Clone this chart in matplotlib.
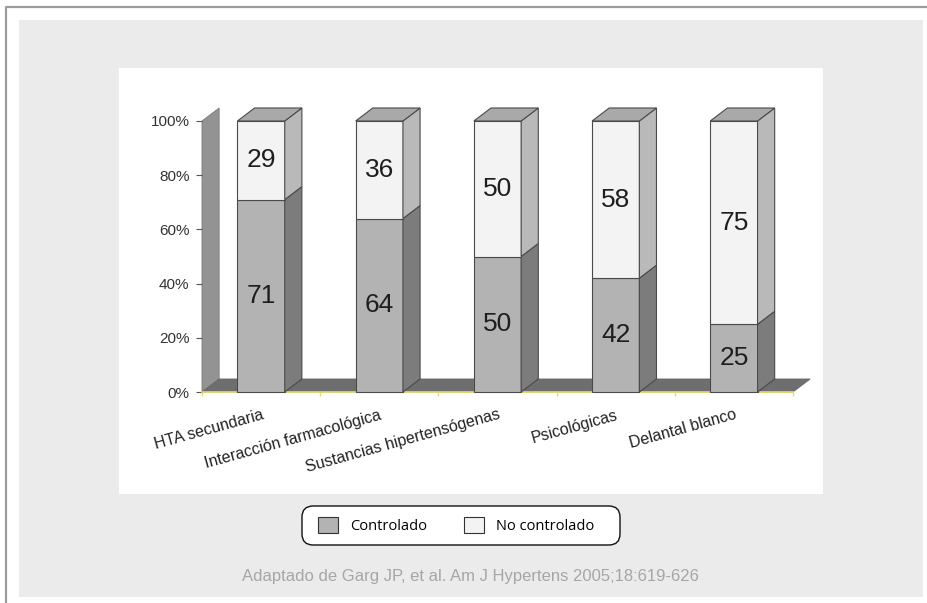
import matplotlib
matplotlib.use("Agg")
import matplotlib.pyplot as plt
from matplotlib.patches import Polygon, Rectangle, Patch, FancyBboxPatch
from matplotlib.lines import Line2D

# ====================================
# Datos
# ====================================
categorias = ["HTA secundaria", "Interacción farmacológica",
              "Sustancias hipertensógenas", "Psicológicas", "Delantal blanco"]
controlado = [71, 64, 50, 42, 25]
no_controlado = [29, 36, 50, 58, 75]
yticks = [0, 20, 40, 60, 80, 100]
fuente = "Adaptado de Garg JP, et al. Am J Hypertens 2005;18:619-626"

# ====================================
# Figura y marcos
# ====================================
W, H = 927, 603
fig = plt.figure(figsize=(W / 100, H / 100), dpi=100)
fig.patch.set_facecolor("white")


def px(x0, y0, x1, y1):
    # caja en pixeles (origen arriba-izquierda) -> fracciones de figura
    return x0 / W, 1 - y1 / H, (x1 - x0) / W, (y1 - y0) / H


def rect(x0, y0, x1, y1, **kw):
    l, b, w, h = px(x0, y0, x1, y1)
    fig.add_artist(Rectangle((l, b), w, h, transform=fig.transFigure, zorder=-5, **kw))


# linea gris del borde
fig.add_artist(Line2D([6 / W, 6 / W, 1], [0, 1 - 7 / H, 1 - 7 / H],
                      transform=fig.transFigure, color="#9c9c9c", lw=1.6, zorder=-5))
rect(19, 20, 923, 597, facecolor="#eaebea", edgecolor="none")
rect(119, 68, 823, 494, facecolor="white", edgecolor="none")

# ====================================
# Grafico 3D simulado
# ====================================
ax = fig.add_axes(px(202, 121, 793, 392))
ax.set_zorder(5)
ax.set_xlim(-0.5, 4.5)
ax.set_ylim(0, 100)
ax.set_facecolor("none")

dx, dy = 0.145, 4.8   # profundidad
hw = 0.2              # media anchura de la barra
edge = "#4a4a4a"

# pared izquierda y suelo
ax.add_patch(Polygon([(-0.5, 0), (-0.5, 100), (-0.5 + dx, 100 + dy), (-0.5 + dx, dy)],
                     closed=True, facecolor="#939393", edgecolor="#7a7a7a", lw=0.6,
                     clip_on=False, zorder=1))
ax.add_patch(Polygon([(-0.5, 0), (4.5, 0), (4.5 + dx, dy), (-0.5 + dx, dy)],
                     closed=True, facecolor="#6e6e6e", edgecolor="#666666", lw=0.6,
                     clip_on=False, zorder=1))

for i, (c, n) in enumerate(zip(controlado, no_controlado)):
    segs = [(0, c, "#b3b3b3", "#7c7c7c"), (c, c + n, "#f3f3f3", "#b9b9b9")]
    for y0, y1, front, side in segs:
        ax.add_patch(Polygon([(i - hw, y0), (i + hw, y0), (i + hw, y1), (i - hw, y1)],
                             closed=True, facecolor=front, edgecolor=edge, lw=0.8,
                             clip_on=False, zorder=3))
        ax.add_patch(Polygon([(i + hw, y0), (i + hw + dx, y0 + dy),
                              (i + hw + dx, y1 + dy), (i + hw, y1)],
                             closed=True, facecolor=side, edgecolor=edge, lw=0.8,
                             clip_on=False, zorder=3))
    top = c + n
    ax.add_patch(Polygon([(i - hw, top), (i + hw, top), (i + hw + dx, top + dy),
                          (i - hw + dx, top + dy)],
                         closed=True, facecolor="#a9a9a9", edgecolor=edge, lw=0.8,
                         clip_on=False, zorder=3))
    ax.text(i, c / 2, str(c), ha="center", va="center", fontsize=19,
            family="Liberation Sans", color="#1e1e1e", zorder=4)
    ax.text(i, c + n / 2, str(n), ha="center", va="center", fontsize=19,
            family="Liberation Sans", color="#1e1e1e", zorder=4)

# ejes
for s in ["top", "right", "left"]:
    ax.spines[s].set_visible(False)
ax.spines["bottom"].set_color("#e3dc6a")
ax.spines["bottom"].set_linewidth(1.2)
ax.spines["bottom"].set_zorder(2)

ax.set_yticks(yticks)
ax.set_yticklabels([f"{v}%" for v in yticks], family="Liberation Sans",
                   fontsize=11, color="#333333")
ax.tick_params(axis="y", length=4, width=0.8, color="#555555", pad=5)

ax.set_xticks(range(len(categorias)))
ax.set_xticklabels(categorias, rotation=15.5, ha="right", rotation_mode="anchor",
                   family="Liberation Sans", fontsize=11.5, color="#222222")
ax.tick_params(axis="x", which="major", length=0, pad=11)
ax.set_xticks([k - 0.5 for k in range(len(categorias) + 1)], minor=True)
ax.tick_params(axis="x", which="minor", length=3, width=1, color="#e3dc6a")

# ====================================
# Leyenda y fuente
# ====================================
l, b, w, h = px(302, 506, 620, 545)
fig.add_artist(FancyBboxPatch((l, b), w, h, transform=fig.transFigure,
                              boxstyle="round,pad=0,rounding_size=0.012",
                              mutation_aspect=W / H, facecolor="white",
                              edgecolor="#111111", lw=1.0, zorder=-4))

handles = [Patch(facecolor="#b3b3b3", edgecolor="#333333", lw=0.8, label="Controlado"),
           Patch(facecolor="#f3f3f3", edgecolor="#333333", lw=0.8, label="No controlado")]
leg = fig.legend(handles=handles, loc="center", bbox_to_anchor=(456 / W, 1 - 525.5 / H),
                 ncol=2, frameon=False, handlelength=1.4, handleheight=1.3,
                 handletextpad=0.8, columnspacing=2.5, borderpad=0, borderaxespad=0,
                 prop={"family": "Open Sans", "size": 10.5})

fig.text(470 / W, 1 - 576 / H, fuente, ha="center", va="center",
         family=["Liberation Sans Narrow", "Liberation Sans"], fontsize=12,
         color="#a6a6a6")

plt.savefig("out.png", dpi=100)
plt.close()
